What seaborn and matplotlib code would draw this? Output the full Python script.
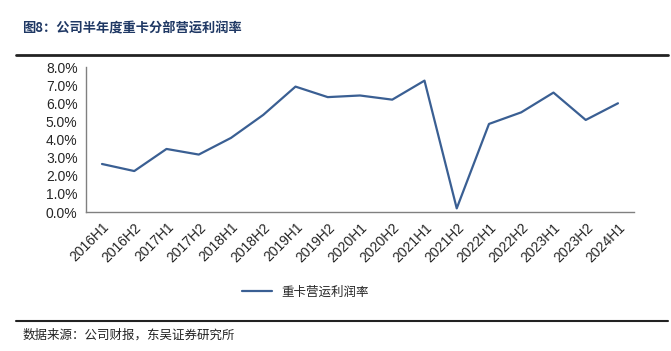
import numpy as np
import pandas as pd
import seaborn as sns
import matplotlib.pyplot as plt
from matplotlib.lines import Line2D
from matplotlib.ticker import FixedLocator, PercentFormatter

# Data
periods = ['2016H1', '2016H2', '2017H1', '2017H2', '2018H1', '2018H2', '2019H1',
           '2019H2', '2020H1', '2020H2', '2021H1', '2021H2', '2022H1', '2022H2',
           '2023H1', '2023H2', '2024H1']
margin = [2.65, 2.26, 3.48, 3.17, 4.09, 5.36, 6.92, 6.34, 6.43, 6.20, 7.25, 0.20,
          4.86, 5.50, 6.59, 5.08, 6.00]
series_name = '重卡营运利润率'

df = pd.DataFrame({'period': periods, 'margin': margin})

sns.set_style('white')
plt.rcParams['font.family'] = ['Liberation Sans', 'Noto Sans CJK SC', 'DejaVu Sans']

fig = plt.figure(figsize=(6.71, 3.51), dpi=100)
ax = fig.add_axes([0.128, 0.396, 0.817, 0.413])

sns.lineplot(data=df, x='period', y='margin', color='#3A5F93', linewidth=1.6,
             sort=False, ax=ax, legend=False)

ax.set_xlim(-0.5, len(periods) - 0.5)
ax.set_ylim(0, 8)
ax.set_yticks(np.arange(0, 8.1, 1))
ax.yaxis.set_major_formatter(PercentFormatter(decimals=1))
ax.set_xticks(range(len(periods)))
ax.set_xticklabels(periods, rotation=45, ha='right', rotation_mode='anchor', fontsize=10)
ax.xaxis.set_minor_locator(FixedLocator(np.arange(-0.5, len(periods), 1)))
ax.tick_params(axis='x', which='major', length=0, pad=6)
ax.tick_params(axis='x', which='minor', length=5, width=1, color='#808080', direction='out')
ax.tick_params(axis='y', labelsize=10, length=4, width=1, color='#808080', direction='out', pad=2)
ax.set_xlabel('')
ax.set_ylabel('')
sns.despine(ax=ax)
for s in ['left', 'bottom']:
    ax.spines[s].set_color('#808080')
    ax.spines[s].set_linewidth(1)

handle = Line2D([], [], color='#3A5F93', linewidth=1.6)
fig.legend([handle], [series_name], loc='center', bbox_to_anchor=(0.455, 0.168),
           frameon=False, handlelength=2.4,
           prop={'family': ['Noto Sans CJK SC'], 'size': 9})

# Title and source text with rules
fig.text(0.033, 0.92, '图8：公司半年度重卡分部营运利润率', fontsize=9.5, fontweight='bold',
         color='#1F3864', family=['Noto Sans CJK SC'], va='center')
fig.add_artist(Line2D([0.024, 0.995], [0.843, 0.843], color='#222222', linewidth=2,
                      transform=fig.transFigure))
fig.add_artist(Line2D([0.024, 0.995], [0.085, 0.085], color='#222222', linewidth=1.5,
                      transform=fig.transFigure))
fig.text(0.033, 0.045, '数据来源：公司财报，东吴证券研究所', fontsize=9, color='#222222',
         family=['Noto Sans CJK SC'], va='center')

fig.savefig('out.png', dpi=100)
